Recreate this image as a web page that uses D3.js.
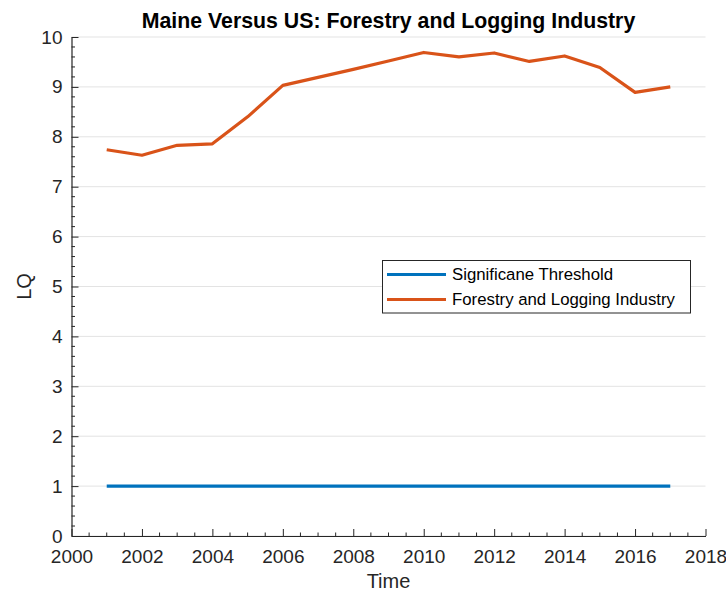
<!DOCTYPE html>
<html>
<head>
<meta charset="utf-8">
<script src="https://d3js.org/d3.v7.min.js"></script>
<style>
  body { margin: 0; background: #fff; }
  svg text { font-family: "Liberation Sans", Arial, Helvetica, sans-serif; }
</style>
</head>
<body>
<div id="chart"></div>
<script>
// data
const years = [2001, 2002, 2003, 2004, 2005, 2006, 2007, 2008, 2009, 2010, 2011, 2012, 2013, 2014, 2015, 2016, 2017];
const forestryLQ = [7.74, 7.63, 7.83, 7.86, 8.40, 9.03, 9.19, 9.35, 9.52, 9.69, 9.60, 9.68, 9.51, 9.62, 9.39, 8.89, 9.00];
const thresholdLQ = [1, 1, 1, 1, 1, 1, 1, 1, 1, 1, 1, 1, 1, 1, 1, 1, 1];
const xTickValues = [2000, 2002, 2004, 2006, 2008, 2010, 2012, 2014, 2016, 2018];
const yTickValues = [0, 1, 2, 3, 4, 5, 6, 7, 8, 9, 10];
const seriesNames = ["Significane Threshold", "Forestry and Logging Industry"];
const seriesColors = ["#0072BD", "#D95319"];

const width = 726, height = 592;
const margin = { left: 71.5, right: 20.5, top: 37, bottom: 56 };

const svg = d3.select("#chart").append("svg")
    .attr("width", width)
    .attr("height", height);

const x = d3.scaleLinear().domain([2000, 2018]).range([margin.left, width - margin.right]);
const y = d3.scaleLinear().domain([0, 10]).range([height - margin.bottom, margin.top]);

const axisColor = "#262626";

// horizontal grid
svg.append("g")
    .selectAll("line")
    .data(yTickValues)
    .enter()
    .append("line")
    .attr("x1", x(2000))
    .attr("x2", x(2018))
    .attr("y1", d => y(d))
    .attr("y2", d => y(d))
    .attr("stroke", "#e3e3e3")
    .attr("stroke-width", 1);

// minor ticks
const xMinor = d3.range(2000, 2018.01, 0.5).filter(v => v % 2 !== 0);
const yMinor = d3.range(0, 10.001, 0.2).map(v => +v.toFixed(1)).filter(v => v % 1 !== 0);

svg.append("g")
    .selectAll("line")
    .data(xMinor)
    .enter()
    .append("line")
    .attr("x1", d => x(d)).attr("x2", d => x(d))
    .attr("y1", y(0)).attr("y2", y(0) - 3.5)
    .attr("stroke", axisColor);

svg.append("g")
    .selectAll("line")
    .data(yMinor)
    .enter()
    .append("line")
    .attr("y1", d => y(d)).attr("y2", d => y(d))
    .attr("x1", x(2000)).attr("x2", x(2000) + 3.5)
    .attr("stroke", axisColor);

// axes, ticks pointing inward
const xAxis = svg.append("g")
    .attr("transform", `translate(0,${y(0)})`)
    .call(d3.axisBottom(x).tickValues(xTickValues).tickFormat(d3.format("d")).tickSizeInner(-7).tickSizeOuter(0).tickPadding(14));

const yAxis = svg.append("g")
    .attr("transform", `translate(${x(2000)},0)`)
    .call(d3.axisLeft(y).tickValues(yTickValues).tickSizeInner(-7).tickSizeOuter(0).tickPadding(9));

[xAxis, yAxis].forEach(g => {
    g.select(".domain").attr("stroke", axisColor).attr("stroke-width", 1.2);
    g.selectAll(".tick line").attr("stroke", axisColor);
    g.selectAll(".tick text")
        .attr("fill", axisColor)
        .style("font-size", "19px");
});

// lines
const line = d3.line()
    .x((d, i) => x(years[i]))
    .y(d => y(d));

[thresholdLQ, forestryLQ].forEach((vals, i) => {
    svg.append("path")
        .datum(vals)
        .attr("d", line)
        .attr("fill", "none")
        .attr("stroke", seriesColors[i])
        .attr("stroke-width", 3.2)
        .attr("stroke-linejoin", "round");
});

// title and labels
svg.append("text")
    .attr("x", (x(2000) + x(2018)) / 2)
    .attr("y", 27.5)
    .attr("text-anchor", "middle")
    .style("font-size", "21.3px")
    .style("font-weight", "bold")
    .attr("fill", "#000")
    .text("Maine Versus US: Forestry and Logging Industry");

svg.append("text")
    .attr("x", (x(2000) + x(2018)) / 2)
    .attr("y", 588)
    .attr("text-anchor", "middle")
    .style("font-size", "20px")
    .attr("fill", axisColor)
    .text("Time");

svg.append("text")
    .attr("transform", `translate(31,${(y(0) + y(10)) / 2}) rotate(-90)`)
    .attr("text-anchor", "middle")
    .style("font-size", "20px")
    .attr("fill", axisColor)
    .text("LQ");

// legend
const legend = svg.append("g").attr("transform", "translate(382,260)");
legend.append("rect")
    .attr("x", 0.5).attr("y", 0.5)
    .attr("width", 308).attr("height", 52.5)
    .attr("fill", "#fff")
    .attr("stroke", axisColor)
    .attr("stroke-width", 1);

seriesNames.forEach((name, i) => {
    const row = legend.append("g").attr("transform", `translate(0,${14.5 + i * 25})`);
    row.append("line")
        .attr("x1", 5).attr("x2", 64)
        .attr("stroke", seriesColors[i])
        .attr("stroke-width", 3.2);
    row.append("text")
        .attr("x", 70)
        .attr("dy", "0.35em")
        .style("font-size", "16.8px")
        .attr("fill", "#000")
        .text(name);
});
</script>
</body>
</html>
